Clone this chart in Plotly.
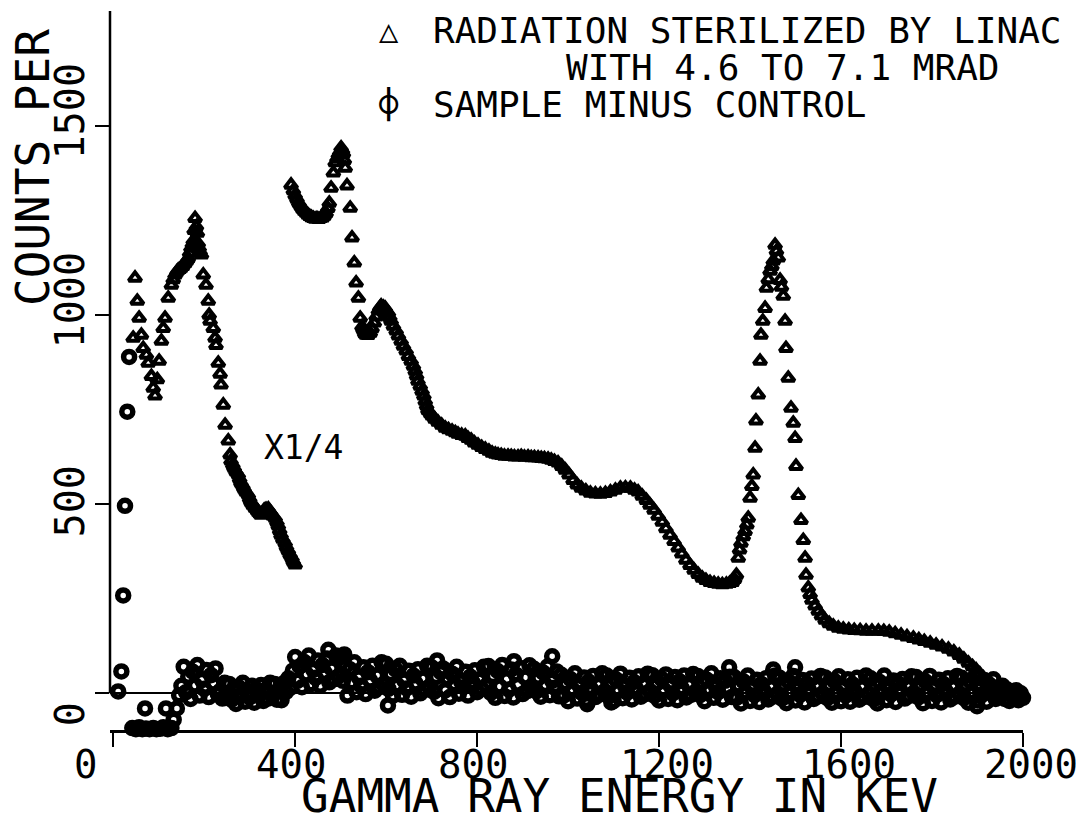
import numpy as np
import plotly.graph_objects as go

FONT = "DejaVu Sans Mono"

# ---- radiation sterilized sample (triangles) ----
# below 400 keV the curve is plotted x1/4
low_kev = [44, 48, 53, 57, 62, 66, 73, 77, 84, 88, 92, 97, 101, 106, 110, 114,
           121, 128, 132, 136, 140, 143, 146, 149, 153, 158, 162, 165, 168, 171,
           174, 176, 178, 180, 183, 185, 187, 189, 191, 194, 198, 204, 209, 211,
           213, 220, 224, 226, 231, 235, 237, 242, 246, 253, 257, 259, 263, 266,
           270, 275, 278, 281, 285, 288, 292, 297, 300, 303, 307, 312, 316, 319,
           322, 325, 329, 332, 336, 341, 344, 347, 351, 356, 360, 363, 366, 369,
           373, 378, 381, 385, 389, 393, 396, 400]
low_counts = [940, 1099, 1038, 993, 948, 913, 895, 874, 839, 808, 787, 830, 879, 932,
              966, 993, 1046, 1080, 1095, 1107, 1115, 1120, 1122, 1125, 1130, 1138,
              1145, 1151, 1165, 1178, 1188, 1197, 1225, 1257, 1235, 1218, 1190, 1178,
              1168, 1160, 1107, 1080, 1038, 1001, 985, 966, 940, 921, 874, 845, 816,
              763, 710, 668, 631, 615, 605, 596, 587, 578, 567, 557, 549, 541, 533,
              525, 515, 506, 498, 490, 485, 480, 476, 472, 478, 485, 487, 488, 482,
              477, 470, 464, 453, 443, 431, 419, 408, 398, 387, 377, 367, 358, 349, 340]

high_kev = [391, 396, 400, 404, 408, 412, 416, 420, 424, 428, 432, 436, 440, 444, 448,
            452, 456, 460, 464, 468, 472, 475, 479, 484, 488, 492, 495, 498, 501, 504,
            506, 508, 510, 514, 521, 525, 530, 534, 539, 543, 547, 550, 553, 556, 560,
            565, 569, 574, 578, 583, 586, 589, 594, 598, 601, 605, 608, 611, 616, 622,
            627, 633, 638, 644, 649, 655, 660, 664, 667, 670, 675, 679, 683, 686, 689,
            692, 697, 701, 707, 714, 722, 730, 737, 745, 752, 758, 766, 774, 780, 787,
            794, 802, 810, 818, 826, 833, 840, 846, 853, 860, 868, 875, 882, 890, 897,
            904, 912, 919, 926, 934, 941, 948, 956, 963, 970, 978, 986, 994, 1002, 1011,
            1020, 1029, 1039, 1049, 1060, 1071, 1082, 1093, 1104, 1115, 1126, 1137, 1146,
            1154, 1163, 1172, 1180, 1189, 1198, 1207, 1215, 1224, 1233, 1242, 1250, 1259,
            1268, 1277, 1286, 1295, 1303, 1312, 1321, 1330, 1339, 1348, 1355, 1361, 1366,
            1370, 1374, 1377, 1380, 1385, 1389, 1393, 1396, 1400, 1404, 1407, 1411, 1413,
            1418, 1422, 1424, 1428, 1433, 1436, 1440, 1444, 1448, 1451, 1455, 1458, 1462,
            1466, 1469, 1473, 1477, 1479, 1484, 1490, 1495, 1499, 1501, 1506, 1512, 1517,
            1521, 1523, 1528, 1532, 1536, 1543, 1550, 1557, 1565, 1574, 1583, 1594, 1605,
            1617, 1629, 1642, 1655, 1668, 1682, 1694, 1706, 1719, 1732, 1745, 1759, 1771,
            1783, 1796, 1809, 1822, 1836, 1848, 1860, 1870, 1880, 1889, 1897, 1905, 1913,
            1920, 1928, 1936, 1945, 1954, 1963, 1972, 1981, 1988, 1994, 2001, 2007]
high_counts = [1345, 1330, 1318, 1308, 1298, 1290, 1282, 1276, 1271, 1266, 1262, 1259,
               1257, 1255, 1256, 1254, 1257, 1258, 1263, 1270, 1283, 1297, 1337, 1377,
               1404, 1415, 1425, 1432, 1443, 1436, 1428, 1410, 1390, 1343, 1284, 1205,
               1139, 1086, 1046, 993, 970, 961, 952, 948, 947, 953, 965, 980, 996, 1012,
               1020, 1025, 1022, 1019, 1012, 1006, 995, 985, 972, 959, 946, 932, 919, 906,
               892, 879, 866, 853, 840, 826, 813, 800, 787, 773, 761, 749, 741, 734, 726,
               718, 710, 702, 698, 694, 690, 686, 683, 681, 675, 670, 663, 657, 651, 646,
               641, 636, 633, 631, 630, 628, 628, 627, 626, 626, 627, 625, 626, 624, 624,
               623, 622, 621, 620, 617, 614, 610, 601, 591, 578, 564, 552, 543, 536, 530,
               528, 527, 529, 533, 538, 543, 544, 543, 538, 533, 522, 511, 498, 485, 469,
               453, 436, 419, 402, 385, 369, 353, 339, 326, 315, 305, 299, 294, 291, 289,
               288, 289, 291, 294, 302, 313, 358, 380, 398, 415, 429, 446, 464, 517, 548,
               578, 649, 721, 790, 879, 948, 985, 1019, 1072, 1095, 1117, 1130, 1144, 1186,
               1170, 1152, 1093, 1075, 1051, 985, 913, 834, 755, 715, 675, 601, 524, 458,
               405, 358, 313, 279, 262, 247, 232, 218, 205, 194, 185, 178, 173, 170, 168,
               167, 166, 165, 165, 165, 164, 162, 158, 154, 150, 146, 142, 138, 133, 128,
               123, 117, 110, 101, 91, 80, 71, 62, 52, 41, 31, 22, 15, 9, 3, -2, -5, -7,
               -9, -10, -13, -15]

# ---- sample minus control (circles), 5 keV channels from 140 keV ----
ctrl_kev = np.arange(140, 2001, 5)
ctrl_counts = [
    -40, -5, 20,
    70, 3, 44, -15, 57, 21, 75, -6, 35, 12, 62, -10, 48, 26, 66, -2,
    6, -14, 28, -8, 25, -17, 8, -28, 17, -6, 28, -22, 3, -11, 20, -25, 11, -3, 22, -20,
    6, -14, 28, -8, 25, -17, 8, -18, 27, 4,
    40, 15, 60,
    96, 33, 71, 16, 83, 50, 100, 24, 62, 41, 87, 20, 75, 54, 92, 29, 66, 37, 100, 45,
    96, 33, 71,
    -6, 64, 29, 82, 3, 42, 20, 69, -2, 56, 34, 73, 7, 47, 16, 82, 25, 78, 12, 51, -6, 64,
    21, 73, -4, 34, 13, 60, -9, 47, 26, 64, 0, 39, 9, 73, 17, 69, 4, 43, -13, 56,
    66, 8, 40, -10, 52, 24, 70, -1, 31, 16, 57, -6, 44, 29, 61, 3, 36, 12, 70, 20,
    72, 1, 46, -12, 59, 18, 75, -7, 37, 10, 63, -11, 50, 23, 67, -2, 42, 6, 74, 14,
    65, 5, 41, -9, 55, 22, 71, -5, 33, 15, 58, -8,
    49, -6, 27, -21, 38, 9, 53, -14, 20, 1, 42, -17, 31, 12, 46, -10, 23, -3, 53, 5,
    47, -8, 28, -20, 37, 8, 52, -13, 19, 2, 41, -16, 30, 11, 45, -9, 24, -2, 52, 6,
    48, -7, 26, -19, 39, 10, 50, -15, 21, 0, 43, -18, 32, 13, 47, -11, 22, -4, 51, 4,
    46, -5, 29, -21, 36, 7, 53, -12, 18, 3, 40, -17, 33, 14, 44, -10,
    43, -12, 21, -27, 32, 3, 47, -20, 14, -5, 36, -23, 25, 6, 40, -16, 17, -9, 47, -1,
    41, -14, 22, -26, 31, 2, 46, -19, 13, -4, 35, -24, 26, 7, 39, -15, 18, -8, 46, 0,
    42, -13, 20, -25, 33, 4, 45, -21, 15, -6, 37, -22, 24, 5, 41, -17, 16, -10, 47, -2,
    40, -15, 23, -27, 30, 1, 47, -18, 12, -3, 34, -23, 27, 8, 38, -14, 19, -7, 45, 1,
    43, -11, 21, -26, 32, 3, 46, -20, 14, -5, 36, -24, 25, 6, 40, -16, 17, -9, 46, -1,
    41, -13, 22, -25, 31, 2, 45, -19, 13, -4, 35, -22, 24, 5, 37, -15, 16, -8,
    20, -15, 10, -20, 5, -10, 8, -18, 0, -12,
]
assert len(ctrl_counts) == len(ctrl_kev)

# low-energy edge and the scattered points off the main band
extra_kev = [11, 18, 22, 26, 31, 35, 42, 50, 57, 64, 70, 72, 80, 88, 95, 103, 110,
             116, 120, 128, 133, 473, 508, 712, 881, 965, 1354, 1451, 1499, 604,
             1042, 1095, 1677, 1899]
extra_counts = [5, 58, 259, 496, 745, 890, -92, -95, -90, -95, -40, -93, -95, -92,
                -95, -94, -90, -40, -95, -92, -70, 115, 103, 87, 85, 98, 69, 63, 69,
                -32, -29, -24, -13, -34]

x_ticks = [0, 400, 800, 1200, 1600, 2000]
y_ticks = [0, 500, 1000, 1500]

fig = go.Figure()
fig.add_trace(go.Scatter(
    x=low_kev + high_kev, y=low_counts + high_counts, mode="markers",
    name="RADIATION STERILIZED BY LINAC",
    marker=dict(symbol="triangle-up-open", size=11, color="black",
                line=dict(width=4, color="black")),
    cliponaxis=False))
fig.add_trace(go.Scatter(
    x=list(ctrl_kev) + extra_kev, y=ctrl_counts + extra_counts, mode="markers",
    name="SAMPLE MINUS CONTROL",
    marker=dict(symbol="circle-open", size=11, color="black",
                line=dict(width=5.5, color="black")),
    cliponaxis=False))

fig.update_layout(
    width=1084, height=816,
    margin=dict(l=102, r=69, t=3, b=94),
    paper_bgcolor="white", plot_bgcolor="white",
    font=dict(family=FONT, color="black"),
    showlegend=False,
    xaxis=dict(range=[-7, 2000], showgrid=False, zeroline=False,
               showline=True, linecolor="black", linewidth=2.5,
               ticks="outside", ticklen=14, tickwidth=2, tickcolor="black",
               tickvals=x_ticks, showticklabels=False),
    yaxis=dict(range=[-97, 1805], showgrid=False, showline=False,
               zeroline=True, zerolinecolor="black", zerolinewidth=1.5,
               ticks="outside", ticklen=14, tickwidth=2, tickcolor="black",
               tickvals=y_ticks, showticklabels=False),
)

# y axis line only runs from zero up
fig.add_shape(type="line", xref="paper", yref="y", x0=0, x1=0, y0=0, y1=1805,
              line=dict(color="black", width=2.5))


def px_x(p):
    return (p - 102) / 913


def px_y(p):
    return (722 - p) / 719


# plotter-style tick labels: each one starts a little before its tick
for v in x_ticks:
    fig.add_annotation(text=str(v), xref="x", yref="paper", x=v, xshift=-41,
                       y=px_y(757), xanchor="left", yanchor="middle",
                       showarrow=False, font=dict(family=FONT, size=39, color="black"))
for v in y_ticks:
    fig.add_annotation(text=str(v), xref="paper", yref="y", textangle=-90,
                       x=px_x(62), y=v, yshift=-35, xanchor="center",
                       yanchor="bottom", showarrow=False,
                       font=dict(family=FONT, size=40, color="black"))

# legend block, drawn as text the way the plotter did it
legend_rows = [
    ("<b>△</b>", "RADIATION STERILIZED BY LINAC", 423, 22),
    ("", "WITH 4.6 TO 7.1 MRAD", 556, 59),
    ("<b>⌽</b>", "SAMPLE MINUS CONTROL", 423, 96),
]
for sym, label, left, yc in legend_rows:
    fig.add_annotation(text=label, xref="paper", yref="paper", x=px_x(left),
                       y=px_y(yc), xanchor="left", yanchor="middle", showarrow=False,
                       font=dict(family=FONT, size=36, color="black"))
    if sym:
        fig.add_annotation(text=sym, xref="paper", yref="paper", x=px_x(381),
                           y=px_y(yc + 1), xanchor="center", yanchor="middle",
                           showarrow=False,
                           font=dict(family=FONT + ", DejaVu Sans", size=32,
                                     color="black"))

fig.add_annotation(text="X1/4", xref="x", yref="y", x=418, y=651,
                   showarrow=False, font=dict(family=FONT, size=33, color="black"))
fig.add_annotation(text="GAMMA RAY ENERGY IN KEV", xref="paper", yref="paper",
                   x=px_x(611), y=px_y(788), xanchor="center",
                   yanchor="middle", showarrow=False,
                   font=dict(family=FONT, size=46, color="black"))
fig.add_annotation(text="COUNTS PER", xref="paper", yref="paper", textangle=-90,
                   x=px_x(25), y=px_y(160), xanchor="center",
                   yanchor="middle", showarrow=False,
                   font=dict(family=FONT, size=46, color="black"))

fig.write_html("out.html")
